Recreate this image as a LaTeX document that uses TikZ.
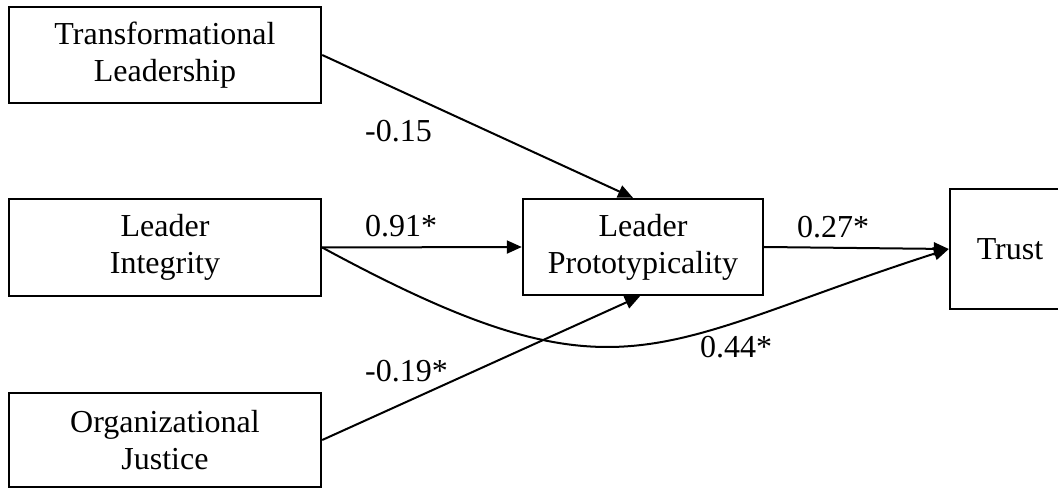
\documentclass[tikz,border=0pt]{standalone}
\usepackage{fontspec}
\setmainfont{Liberation Serif}
\usetikzlibrary{arrows.meta}
\begin{document}
\begin{tikzpicture}[x=1pt,y=-1pt,
  box/.style={draw, line width=2.4pt, rectangle, align=center,
    inner sep=0pt, font=\fontsize{32}{37}\selectfont},
  path/.style={line width=2pt, -{Triangle[length=15pt,width=13pt]}},
  coef/.style={anchor=base west, inner sep=0pt, font=\fontsize{32}{37}\selectfont}]
  \clip (0,0) rectangle (1058,489);
  \useasboundingbox (0,0) rectangle (1058,489);

  % predictors
  \node[box, minimum width=312pt, minimum height=96pt] (tl) at (165,55) {Transformational\\Leadership};
  \node[box, minimum width=312pt, minimum height=97pt] (li) at (165,247.5) {Leader\\Integrity};
  \node[box, minimum width=312pt, minimum height=94pt] (oj) at (165,440) {Organizational\\Justice};

  % mediator and outcome
  \node[box, minimum width=240pt, minimum height=96pt] (proto) at (643,247) {Leader\\Prototypicality};
  \node[box, minimum width=120pt, minimum height=120pt] (trust) at (1010,249) {Trust};

  % paths
  \draw[path] (tl.east) -- ([xshift=-10pt]proto.north);
  \draw[path] (li.east) -- (proto.west);
  \draw[path] (oj.east) -- ([xshift=-3pt]proto.south);
  \draw[path] (proto.east) -- (trust.west);
  \draw[path] (li.east) .. controls (622,410) and (650,345) .. (trust.west);

  % coefficients
  \node[coef] (c1) at (365,142) {-0.15};
  \node[coef] (c2) at (365,237) {0.91*};
  \node[coef] (c3) at (365,381) {-0.19*};
  \node[coef] (c4) at (797,238) {0.27*};
  \node[coef] (c5) at (700,357) {0.44*};
\end{tikzpicture}
\end{document}
